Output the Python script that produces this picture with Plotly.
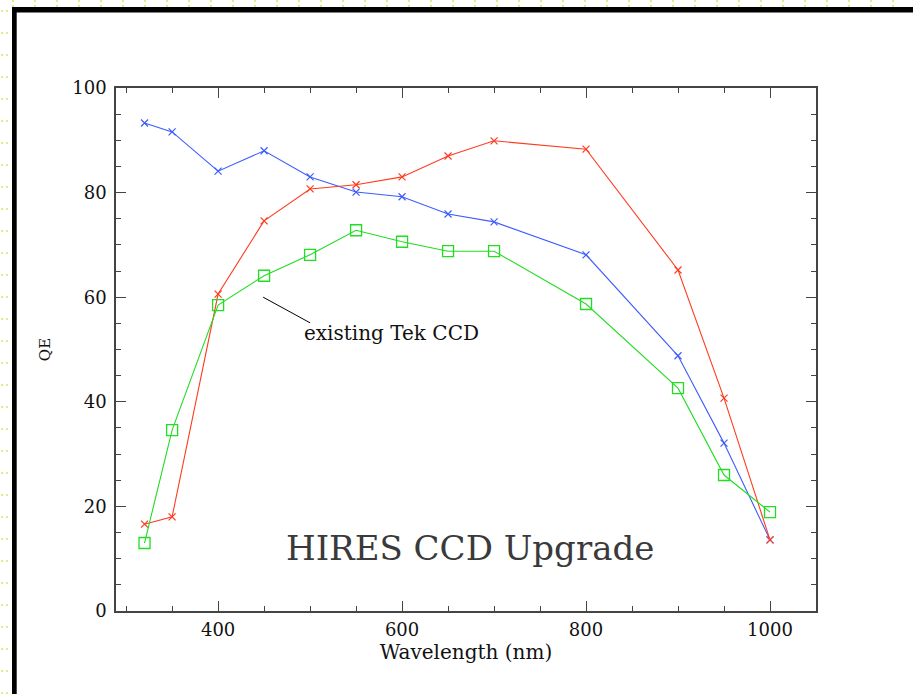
import plotly.graph_objects as go

# Quantum efficiency curves (QE %, vs wavelength in nm)
wavelength = [320, 350, 400, 450, 500, 550, 600, 650, 700, 800, 900, 950, 1000]
qe_blue = [93.3, 91.6, 84.1, 88.0, 83.0, 80.1, 79.2, 75.9, 74.4, 68.1, 48.8, 32.1, 13.6]
qe_red = [16.6, 18.0, 60.6, 74.6, 80.7, 81.5, 83.0, 87.0, 89.9, 88.3, 65.2, 40.7, 13.6]
qe_tek = [13.0, 34.6, 58.5, 64.1, 68.1, 72.8, 70.6, 68.8, 68.8, 58.7, 42.6, 26.0, 18.9]

W, H = 913, 694
ML, MR, MT, MB = 116, 97, 88, 83
PW, PH = W - ML - MR, H - MT - MB

SERIF = "DejaVu Serif, Liberation Serif, serif"


def px(x):
    return (x - ML) / PW


def py(y):
    return (H - MB - y) / PH


fig = go.Figure()

fig.add_trace(go.Scatter(
    x=wavelength, y=qe_blue, mode="lines+markers",
    line=dict(color="#3d5cff", width=1.1),
    marker=dict(symbol="x-thin", size=7, line=dict(color="#3d5cff", width=1.2)),
    showlegend=False,
))
fig.add_trace(go.Scatter(
    x=wavelength, y=qe_red, mode="lines+markers",
    line=dict(color="#ff3b1f", width=1.1),
    marker=dict(symbol="x-thin", size=7, line=dict(color="#ff3b1f", width=1.2)),
    showlegend=False,
))
fig.add_trace(go.Scatter(
    x=wavelength, y=qe_tek, mode="lines+markers",
    line=dict(color="#22dd22", width=1.1),
    marker=dict(symbol="square-open", size=11, color="#22dd22",
                line=dict(color="#22dd22", width=1.3)),
    showlegend=False,
))

shapes = []
# dotted page strip along the top and left edges
dot = "#e2ea8c"
for xx in range(12, W, 22):
    for yy in (0, 5):
        shapes.append(dict(type="rect", xref="paper", yref="paper",
                           x0=px(xx), x1=px(xx + 2), y0=py(yy), y1=py(yy + 2),
                           fillcolor=dot, line=dict(width=0), layer="below"))
for yy in range(10, H, 22):
    for xx in (1, 6):
        shapes.append(dict(type="rect", xref="paper", yref="paper",
                           x0=px(xx), x1=px(xx + 2), y0=py(yy), y1=py(yy + 2),
                           fillcolor=dot, line=dict(width=0), layer="below"))
# black frame edges
shapes.append(dict(type="rect", xref="paper", yref="paper",
                   x0=px(12), x1=px(W + 5), y0=py(12.5), y1=py(7),
                   fillcolor="black", line=dict(width=0)))
shapes.append(dict(type="rect", xref="paper", yref="paper",
                   x0=px(12), x1=px(16.7), y0=py(H + 5), y1=py(7),
                   fillcolor="black", line=dict(width=0)))
# pointer line for the annotation
shapes.append(dict(type="line", xref="x", yref="y", x0=449, y0=60.0, x1=500, y1=55.1,
                   line=dict(color="black", width=1)))

annotations = [
    dict(x=491, y=53.2, xref="x", yref="y", text="existing Tek CCD", showarrow=False,
         xanchor="left", yanchor="middle", font=dict(family=SERIF, size=20, color="#111")),
    dict(x=674, y=12.0, xref="x", yref="y", text="HIRES CCD Upgrade", showarrow=False,
         xanchor="center", yanchor="middle", font=dict(family=SERIF, size=34, color="#3a3a3a")),
]

axis_common = dict(
    showgrid=False, zeroline=False, showline=True, linecolor="#444", linewidth=1.5,
    mirror="ticks", ticks="inside", ticklen=10, tickwidth=1.2, tickcolor="#444",
    tickfont=dict(family=SERIF, size=18, color="#111"),
)

fig.update_layout(
    width=W, height=H,
    margin=dict(l=ML, r=MR, t=MT, b=MB),
    paper_bgcolor="white", plot_bgcolor="white",
    shapes=shapes, annotations=annotations,
    xaxis=dict(range=[289, 1050], tick0=0, dtick=200,
               minor=dict(dtick=50, tick0=0, ticks="inside", ticklen=5, tickcolor="#444"),
               ticklabelstandoff=2,
               title=dict(text="Wavelength (nm)", font=dict(family=SERIF, size=20, color="#111"),
                          standoff=2),
               **axis_common),
    yaxis=dict(range=[0, 100], tick0=0, dtick=20,
               minor=dict(dtick=5, tick0=0, ticks="inside", ticklen=5, tickcolor="#444"),
               ticklabelstandoff=4,
               title=dict(text="QE", font=dict(family=SERIF, size=15, color="#111"),
                          standoff=18),
               **axis_common),
)

fig.write_html("out.html")
